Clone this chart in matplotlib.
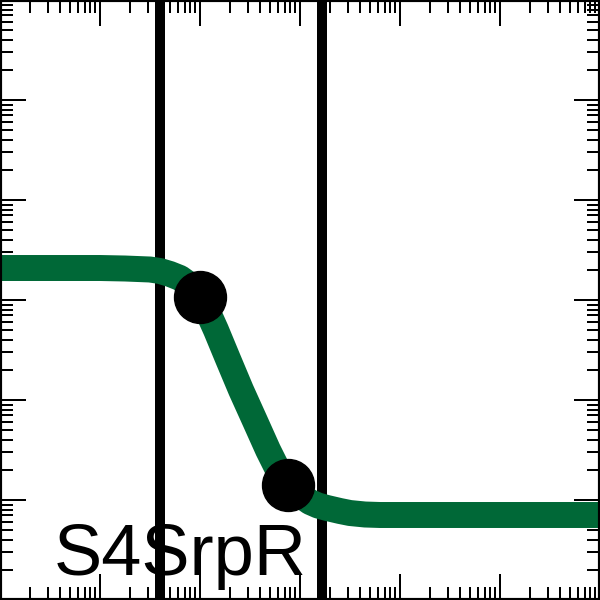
import numpy as np
import matplotlib.pyplot as plt

# curva de respuesta (escala log-log)
x_curva = [1, 10, 17.8, 31.6, 39.8, 50.1, 63.1, 74.1, 85.1, 100, 117.5, 144.5, 190.5,
           257, 354.8, 479, 602.6, 759, 1000, 1259, 1514, 1862, 2512, 3162, 4467,
           6310, 15849, 1e6]
y_curva = [2089, 2089, 2065, 2018, 1950, 1820, 1660, 1479, 1288, 1072, 794, 501, 257,
           126, 61.7, 31.6, 19.95, 14.1, 11.2, 9.55, 8.81, 8.32, 7.76, 7.41, 7.16,
           7.08, 7.08, 7.08]

# puntos marcados
x_puntos = [100, 759]
y_puntos = [1072, 14.1]

# lineas verticales
x_lineas = [39.8, 1660]

etiqueta = "S4SrpR"

fig = plt.figure(figsize=(6, 6), dpi=100)
ax = fig.add_axes([0, 0, 1, 1])

for xv in x_lineas:
    ax.axvline(xv, color='black', linewidth=7.2, zorder=1)

ax.plot(x_curva, y_curva, color='#006837', linewidth=18.7,
        solid_capstyle='butt', solid_joinstyle='round', zorder=2)
ax.plot(x_puntos, y_puntos, 'o', color='black', markersize=37.4, zorder=3)

ax.set_xscale('log')
ax.set_yscale('log')
ax.set_xlim(1, 1e6)
ax.set_ylim(1, 1e6)

ax.tick_params(which='both', direction='in', top=True, right=True,
               labelbottom=False, labelleft=False, width=1.44)
ax.tick_params(which='major', length=18.7)
ax.tick_params(which='minor', length=9.4)
for s in ax.spines.values():
    s.set_linewidth(3)

ax.text(0.09, 0.0417, etiqueta, transform=ax.transAxes, fontsize=52,
        family='Liberation Sans', ha='left', va='baseline', zorder=4)

fig.savefig('out.png', dpi=100)
